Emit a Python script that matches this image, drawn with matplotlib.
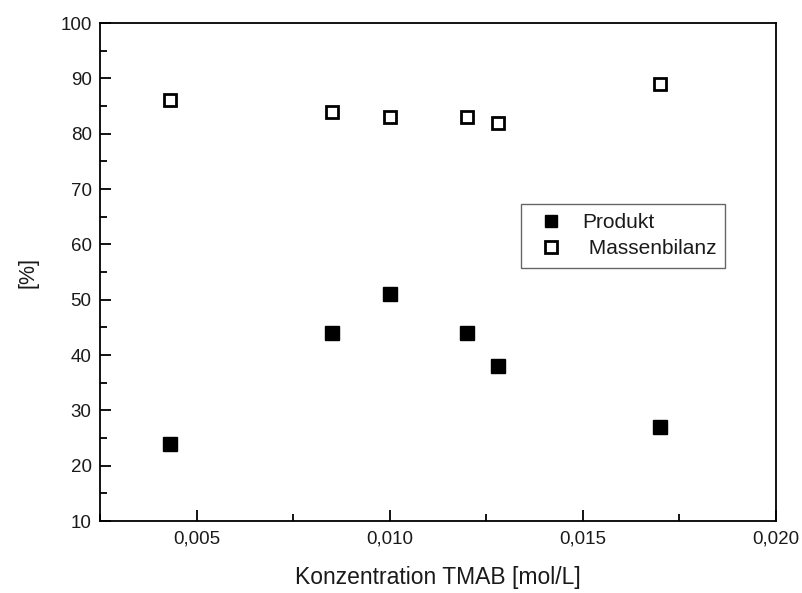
import numpy as np
import matplotlib
matplotlib.use('Agg')
import matplotlib.pyplot as plt
from matplotlib.ticker import FuncFormatter, MultipleLocator, AutoMinorLocator

# data
konz = [0.0043, 0.0085, 0.0100, 0.0120, 0.0128, 0.0170]
produkt = [24, 44, 51, 44, 38, 27]
massenbilanz = [86, 84, 83, 83, 82, 89]

plt.rcParams['font.family'] = ['Liberation Sans', 'DejaVu Sans']

fig = plt.figure(figsize=(8.02, 5.93), dpi=100)
ax = fig.add_axes([0.1247, 0.1214, 0.8429, 0.8398])

ax.plot(konz, produkt, 's', color='black', markersize=9.5, label='Produkt')
ax.plot(konz, massenbilanz, 's', markerfacecolor='white', markeredgecolor='black',
        markeredgewidth=2.0, markersize=9.0, label=' Massenbilanz')

ax.set_xlim(0.0025, 0.020)
ax.set_ylim(10, 100)
ax.xaxis.set_major_locator(MultipleLocator(0.005))
ax.xaxis.set_minor_locator(AutoMinorLocator(2))
ax.yaxis.set_major_locator(MultipleLocator(10))
ax.yaxis.set_minor_locator(AutoMinorLocator(2))
ax.xaxis.set_major_formatter(FuncFormatter(lambda v, p: ('%.3f' % v).replace('.', ',')))

ax.tick_params(which='both', direction='in', top=False, right=False, labelsize=13.5,
               width=1.3, labelcolor='#1a1a1a')
ax.tick_params(which='major', length=8, pad=7)
ax.tick_params(which='minor', length=5)
ax.tick_params(axis='y', which='major', pad=6)
for s in ax.spines.values():
    s.set_linewidth(1.3)

ax.set_xlabel('Konzentration TMAB [mol/L]', fontsize=16.5, labelpad=13, color='#1a1a1a')
ax.set_ylabel('[%]', fontsize=15.5, labelpad=16, color='#1a1a1a')

leg = ax.legend(loc='upper left', bbox_to_anchor=(0.623, 0.637), fontsize=15,
                fancybox=False, edgecolor='#666666', framealpha=1,
                handlelength=2.0, handletextpad=0.5, borderpad=0.45, labelspacing=0.35,
                borderaxespad=0, markerscale=0.95)
leg.get_frame().set_linewidth(1.0)
for t in leg.get_texts():
    t.set_color('#1a1a1a')

fig.savefig('out.png', dpi=100)
